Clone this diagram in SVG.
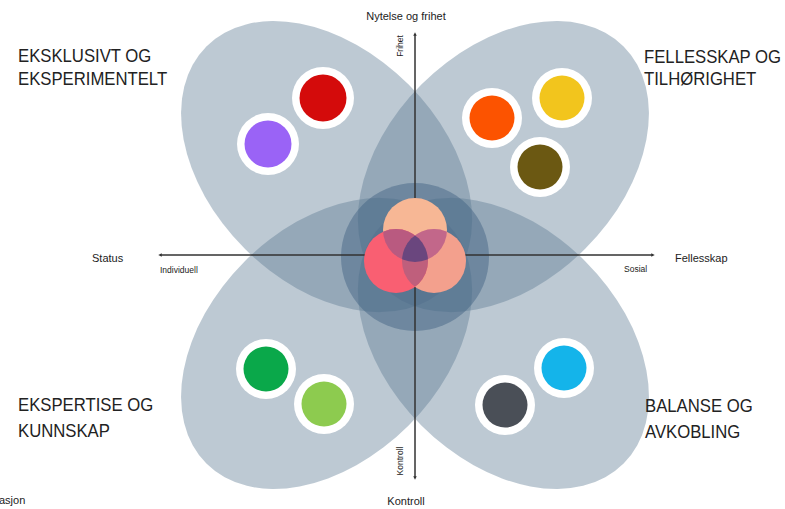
<svg xmlns="http://www.w3.org/2000/svg" width="785" height="509" viewBox="0 0 785 509">
<style>
.petal{fill:#5a7891;fill-opacity:0.4}
.ring{fill:#ffffff}
.ax{stroke:#333;stroke-width:1;fill:none}
.big{font-family:"Liberation Sans",Arial,sans-serif;font-size:19px;fill:#222}
.lbl{font-family:"Liberation Sans",Arial,sans-serif;font-size:11px;fill:#222}
.sm{font-family:"Liberation Sans",Arial,sans-serif;font-size:8.5px;fill:#222}
</style>
<defs>
<marker id="dot" viewBox="0 0 6 6" refX="3" refY="3" markerWidth="3.5" markerHeight="3.5" orient="auto"><path d="M0,0 L6,3 L0,6 z" fill="#333"/></marker>
<clipPath id="cT"><circle cx="415" cy="230" r="32"/></clipPath>
<clipPath id="cL"><circle cx="396" cy="261" r="32"/></clipPath>
<clipPath id="cR"><circle cx="434" cy="261" r="32"/></clipPath>
</defs>
<rect width="785" height="509" fill="#ffffff"/>
<g id="petals">
<ellipse class="petal" cx="326.6" cy="166.6" rx="170" ry="116" transform="rotate(45 326.6 166.6)"/>
<ellipse class="petal" cx="503.4" cy="166.6" rx="170" ry="116" transform="rotate(-45 503.4 166.6)"/>
<ellipse class="petal" cx="326.6" cy="343.4" rx="170" ry="116" transform="rotate(-45 326.6 343.4)"/>
<ellipse class="petal" cx="503.4" cy="343.4" rx="170" ry="116" transform="rotate(45 503.4 343.4)"/>
<circle cx="415" cy="257" r="74" fill="#3d5f80" fill-opacity="0.45"/>
</g>
<g id="connectors">
<line class="ax" x1="415" y1="478" x2="415" y2="34" marker-end="url(#dot)"/>
<line class="ax" x1="415" y1="34" x2="415" y2="478" marker-end="url(#dot)"/>
<line class="ax" x1="653" y1="255" x2="160" y2="255" marker-end="url(#dot)"/>
<line class="ax" x1="160" y1="255" x2="653" y2="255" marker-end="url(#dot)"/>
</g>
<g id="venn">
<circle cx="415" cy="230" r="32" fill="#f7b795"/>
<circle cx="434" cy="261" r="32" fill="#f3a08d"/>
<circle cx="396" cy="261" r="32" fill="#f95f72"/>
<circle cx="396" cy="261" r="32" fill="#b95a80" clip-path="url(#cT)"/>
<circle cx="434" cy="261" r="32" fill="#c2678a" clip-path="url(#cT)"/>
<circle cx="396" cy="261" r="32" fill="#bf5f7c" clip-path="url(#cR)"/>
<g clip-path="url(#cT)"><circle cx="396" cy="261" r="32" fill="#6a467e" clip-path="url(#cR)"/></g>
</g>
<g id="tl-red"><circle class="ring" cx="323" cy="98" r="31"/><circle cx="323" cy="98" r="23.5" fill="#d40b0b"/></g>
<g id="tl-purple"><circle class="ring" cx="268" cy="144" r="31"/><circle cx="268" cy="144" r="23.5" fill="#9a63f6"/></g>
<g id="tr-orange"><circle class="ring" cx="492" cy="118" r="30"/><circle cx="492" cy="118" r="22.5" fill="#fc5300"/></g>
<g id="tr-yellow"><circle class="ring" cx="562" cy="98" r="30"/><circle cx="562" cy="98" r="22.5" fill="#f2c51d"/></g>
<g id="tr-olive"><circle class="ring" cx="540" cy="167" r="30"/><circle cx="540" cy="167" r="22.5" fill="#6b5812"/></g>
<g id="bl-green"><circle class="ring" cx="266" cy="369" r="30"/><circle cx="266" cy="369" r="22.5" fill="#0aa84a"/></g>
<g id="bl-lightgreen"><circle class="ring" cx="324" cy="404" r="30"/><circle cx="324" cy="404" r="22.5" fill="#8dcb4f"/></g>
<g id="br-cyan"><circle class="ring" cx="564" cy="368" r="30"/><circle cx="564" cy="368" r="22.5" fill="#14b4ea"/></g>
<g id="br-gray"><circle class="ring" cx="505" cy="405" r="30"/><circle cx="505" cy="405" r="22.5" fill="#4a4f57"/></g>
<g id="labels">
<text class="lbl" x="406" y="20" text-anchor="middle">Nytelse og frihet</text>
<text class="sm" transform="translate(403 46) rotate(-90)" text-anchor="middle">Frihet</text>
<text class="lbl" x="92" y="262">Status</text>
<text class="sm" x="160" y="273">Individuell</text>
<text class="sm" x="624" y="272">Sosial</text>
<text class="lbl" x="675" y="262">Fellesskap</text>
<text class="sm" transform="translate(403 461) rotate(-90)" text-anchor="middle">Kontroll</text>
<text class="lbl" x="406" y="505" text-anchor="middle">Kontroll</text>
<text class="lbl" x="-1" y="504">asjon</text>
</g>
<g id="q-tl"><text class="big" transform="translate(18 62) scale(0.88 1)">EKSKLUSIVT OG</text><text class="big" transform="translate(18 85) scale(0.88 1)">EKSPERIMENTELT</text></g>
<g id="q-tr"><text class="big" transform="translate(644 63) scale(0.88 1)">FELLESSKAP OG</text><text class="big" transform="translate(644 85) scale(0.88 1)">TILHØRIGHET</text></g>
<g id="q-bl"><text class="big" transform="translate(18 411) scale(0.88 1)">EKSPERTISE OG</text><text class="big" transform="translate(18 437) scale(0.88 1)">KUNNSKAP</text></g>
<g id="q-br"><text class="big" transform="translate(645 412) scale(0.88 1)">BALANSE OG</text><text class="big" transform="translate(645 438) scale(0.88 1)">AVKOBLING</text></g>
</svg>
